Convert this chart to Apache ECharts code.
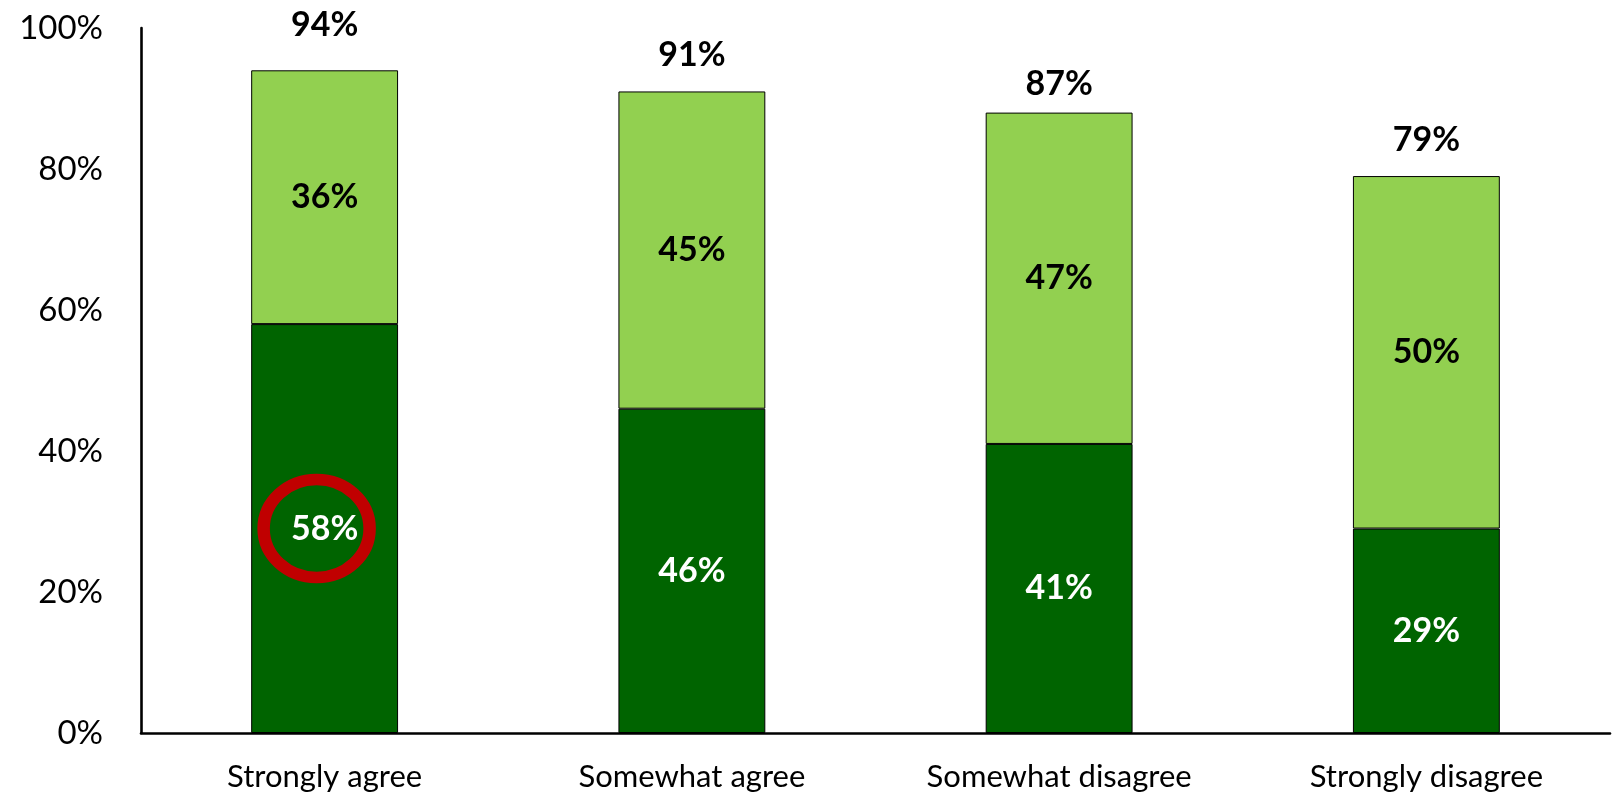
<!DOCTYPE html>
<html>
<head>
<meta charset="utf-8">
<title>Agreement by response</title>
<script src="https://cdn.jsdelivr.net/npm/echarts@6/dist/echarts.min.js"></script>
<style>
  html, body { margin: 0; padding: 0; background: #ffffff; }
  #chart { width: 1621px; height: 794px; }
</style>
</head>
<body>
<div id="chart"></div>
<script>
// Response groups along the x axis
const categories = ['Strongly agree', 'Somewhat agree', 'Somewhat disagree', 'Strongly disagree'];
// Lower (dark green) segment, percent
const strongShare = [58, 46, 41, 29];
// Upper (light green) segment, percent
const somewhatShare = [36, 45, 47, 50];
// Combined share shown above each stack, percent
const totalShare = [94, 91, 87, 79];
// Value-axis ticks, percent
const yTicks = [0, 20, 40, 60, 80, 100];

const FONT = 'Lato, "Open Sans", sans-serif';

const chart = echarts.init(document.getElementById('chart'), null, { renderer: 'canvas' });

// The first total sits a little higher, clear of the top of the plot
const totalData = totalShare.map((v, i) =>
  i === 0 ? { value: v, label: { offset: [0, -9] } } : v
);

chart.setOption({
  backgroundColor: '#ffffff',
  animation: false,
  grid: { left: 141, right: 11, top: 28, bottom: 61, outerBoundsMode: 'none' },
  xAxis: {
    type: 'category',
    data: categories,
    axisLine: { show: true, lineStyle: { color: '#000000', width: 2.6 } },
    axisTick: { show: false },
    axisLabel: { color: '#000000', fontFamily: FONT, fontSize: 31, margin: 28 },
    splitLine: { show: false }
  },
  yAxis: {
    type: 'value',
    min: yTicks[0],
    max: yTicks[yTicks.length - 1],
    interval: yTicks[1] - yTicks[0],
    axisLine: { show: true, lineStyle: { color: '#000000', width: 2.6 } },
    axisTick: { show: false },
    splitLine: { show: false },
    axisLabel: {
      color: '#000000', fontFamily: FONT, fontSize: 33, margin: 38,
      formatter: v => v + '%'
    }
  },
  series: [
    {
      name: 'Strong',
      type: 'bar',
      stack: 'share',
      barWidth: '40%',
      data: strongShare,
      itemStyle: { color: '#006400', borderColor: '#000000', borderWidth: 1 },
      label: {
        show: true, position: 'inside', color: '#ffffff',
        fontFamily: FONT, fontWeight: 'bold', fontSize: 34,
        formatter: p => p.value + '%'
      },
      markPoint: {
        silent: true,
        symbol: 'circle',
        symbolSize: [106, 98],
        symbolOffset: [-8, 0],
        itemStyle: { color: 'rgba(0,0,0,0)', borderColor: '#c00000', borderWidth: 12 },
        label: { show: false },
        data: [{ coord: [categories[0], strongShare[0] / 2] }]
      }
    },
    {
      name: 'Somewhat',
      type: 'bar',
      stack: 'share',
      barWidth: '40%',
      data: somewhatShare,
      itemStyle: { color: '#92d050', borderColor: '#000000', borderWidth: 1 },
      label: {
        show: true, position: 'inside', color: '#000000',
        fontFamily: FONT, fontWeight: 'bold', fontSize: 34,
        formatter: p => p.value + '%'
      }
    },
    {
      name: 'Total',
      type: 'scatter',
      data: totalData,
      symbolSize: 0,
      itemStyle: { color: 'rgba(0,0,0,0)', opacity: 1 },
      z: 5,
      label: {
        show: true, position: 'top', distance: 19, color: '#000000', opacity: 1,
        fontFamily: FONT, fontWeight: 'bold', fontSize: 34,
        formatter: p => p.value + '%'
      }
    }
  ]
});
</script>
</body>
</html>
